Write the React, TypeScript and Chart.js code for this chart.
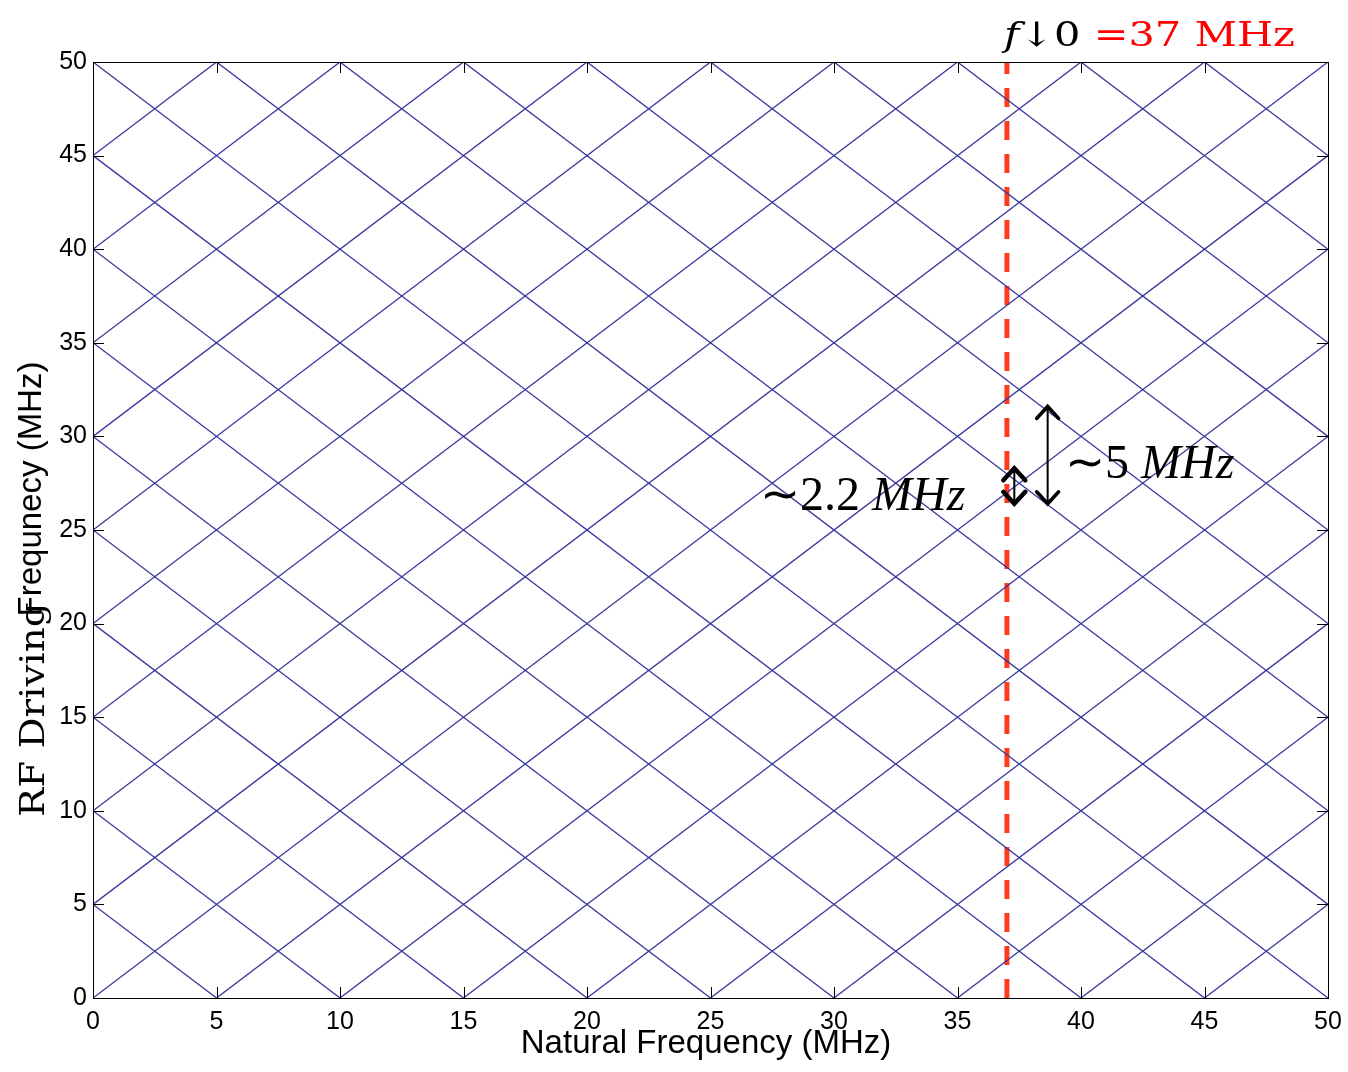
import { useEffect, useRef } from 'react';
import { Chart, registerables } from 'chart.js';

Chart.register(...registerables);

// Axis ticks shared by both axes (MHz)
const axisTicks = [0, 5, 10, 15, 20, 25, 30, 35, 40, 45, 50];

// Comb lines: rising lines y = x + c, falling lines y = c - x (MHz)
const risingOffsets = [-45, -40, -35, -30, -25, -20, -15, -10, -5, 0, 5, 10, 15, 20, 25, 30, 35, 40, 45];
const fallingOffsets = [5, 10, 15, 20, 25, 30, 35, 40, 45, 50, 55, 60, 65, 70, 75, 80, 85, 90, 95];

// Natural frequency of the resonator (MHz)
const naturalFrequencyF0 = 37;

// Spacing markers next to the f0 line (MHz)
const spacingArrows = [
  { x: 37.3, low: 26.4, high: 28.3, heavy: true },
  { x: 38.65, low: 26.4, high: 31.6, heavy: false },
];
const spacingLabels = [
  { value: '2.2', x: 760, y: 510 },
  { value: '5', x: 1065, y: 478 },
];

const xTitle = 'Natural Frequency (MHz)';
const yTitle = 'Frequnecy (MHz)';
const yTitlePrefix = 'RF Driving';

const SANS = '"Liberation Sans", Arial, Helvetica, sans-serif';
const SERIF = '"DejaVu Serif", serif';
const TIMES = '"Liberation Serif", "Times New Roman", serif';
const LINE_BLUE = 'rgb(55, 55, 155)';
const DASH_RED = '#ff3b1f';
const LABEL_RED = '#ff0000';

type Segment = { text: string; font: string; color: string };

function drawRun(
  ctx: CanvasRenderingContext2D,
  segments: Segment[],
  x: number,
  y: number,
  scaleX: number,
  angle = 0
) {
  ctx.save();
  ctx.translate(x, y);
  ctx.rotate(angle);
  ctx.scale(scaleX, 1);
  ctx.textAlign = 'left';
  ctx.textBaseline = 'alphabetic';
  let cx = 0;
  for (const s of segments) {
    ctx.font = s.font;
    ctx.fillStyle = s.color;
    ctx.fillText(s.text, cx, 0);
    cx += ctx.measureText(s.text).width;
  }
  ctx.restore();
}

function drawDoubleArrow(
  ctx: CanvasRenderingContext2D,
  x: number,
  yTop: number,
  yBottom: number,
  heavy: boolean
) {
  const half = 11;
  const headH = 12;
  ctx.save();
  ctx.strokeStyle = '#000';
  ctx.lineCap = 'round';
  ctx.lineJoin = 'miter';
  ctx.lineWidth = 2;
  ctx.beginPath();
  ctx.moveTo(x, yTop + 1);
  ctx.lineTo(x, yBottom - 1);
  ctx.stroke();
  ctx.lineWidth = heavy ? 4.5 : 3.5;
  ctx.beginPath();
  ctx.moveTo(x - half, yTop + headH);
  ctx.lineTo(x, yTop);
  ctx.lineTo(x + half, yTop + headH);
  ctx.moveTo(x - half, yBottom - headH);
  ctx.lineTo(x, yBottom);
  ctx.lineTo(x + half, yBottom - headH);
  ctx.stroke();
  ctx.restore();
}

const framePlugin = {
  id: 'matlabFrame',
  afterDraw(chart: any) {
    const { ctx, chartArea, scales } = chart;
    const { left, right, top, bottom } = chartArea;
    const xs = scales.x;
    const ys = scales.y;
    const tickLen = 11;

    ctx.save();
    ctx.strokeStyle = '#000';
    ctx.lineWidth = 1;
    ctx.strokeRect(left + 0.5, top + 0.5, right - left, bottom - top);
    ctx.beginPath();
    for (const v of axisTicks) {
      const px = Math.round(xs.getPixelForValue(v)) + 0.5;
      ctx.moveTo(px, bottom);
      ctx.lineTo(px, bottom - tickLen);
      ctx.moveTo(px, top);
      ctx.lineTo(px, top + tickLen);
      const py = Math.round(ys.getPixelForValue(v)) + 0.5;
      ctx.moveTo(left, py);
      ctx.lineTo(left + tickLen, py);
      ctx.moveTo(right, py);
      ctx.lineTo(right - tickLen, py);
    }
    ctx.stroke();
    ctx.restore();

    // Axis titles
    ctx.save();
    ctx.fillStyle = '#000';
    ctx.font = `33px ${SANS}`;
    ctx.textAlign = 'center';
    ctx.textBaseline = 'alphabetic';
    ctx.fillText(xTitle, 706, 1053);
    ctx.translate(41, 489);
    ctx.rotate(-Math.PI / 2);
    ctx.fillText(yTitle, 0, 0);
    ctx.restore();

    drawRun(ctx, [{ text: yTitlePrefix, font: `34px ${SERIF}`, color: '#000' }], 44, 817, 1.14, -Math.PI / 2);

    // f0 label above the plot
    drawRun(
      ctx,
      [
        { text: 'f', font: `italic 34px ${SERIF}`, color: '#000' },
        { text: '\u21930 ', font: `34px ${SERIF}`, color: '#000' },
        { text: `=${naturalFrequencyF0} MHz`, font: `34px ${SERIF}`, color: LABEL_RED },
      ],
      1004,
      46,
      1.22
    );

    // Spacing arrows and their labels
    for (const a of spacingArrows) {
      drawDoubleArrow(ctx, xs.getPixelForValue(a.x), ys.getPixelForValue(a.high), ys.getPixelForValue(a.low), a.heavy);
    }
    for (const l of spacingLabels) {
      drawRun(
        ctx,
        [
          { text: `\u223C${l.value} `, font: `48px ${TIMES}`, color: '#000' },
          { text: 'MHz', font: `italic 48px ${TIMES}`, color: '#000' },
        ],
        l.x,
        l.y,
        1.0
      );
    }
  },
};

export default function App() {
  const canvasRef = useRef<HTMLCanvasElement | null>(null);

  useEffect(() => {
    const canvas = canvasRef.current;
    if (!canvas) return;

    const combStyle = {
      borderColor: LINE_BLUE,
      borderWidth: 1.3,
      pointRadius: 0,
      fill: false,
      tension: 0,
    };

    const datasets: any[] = [
      ...risingOffsets.map((c) => ({
        ...combStyle,
        data: [
          { x: 0, y: c },
          { x: 50, y: 50 + c },
        ],
      })),
      ...fallingOffsets.map((c) => ({
        ...combStyle,
        data: [
          { x: 0, y: c },
          { x: 50, y: c - 50 },
        ],
      })),
      {
        data: [
          { x: naturalFrequencyF0, y: 0 },
          { x: naturalFrequencyF0, y: 50 },
        ],
        borderColor: DASH_RED,
        borderWidth: 5,
        borderDash: [19, 14],
        pointRadius: 0,
        fill: false,
      },
    ];

    const tickFont = { family: SANS, size: 25 };

    const chart = new Chart(canvas, {
      type: 'line',
      data: { datasets },
      plugins: [framePlugin],
      options: {
        responsive: false,
        animation: false,
        devicePixelRatio: 1,
        events: [],
        layout: { padding: { top: 62, right: 20, bottom: 0, left: 0 } },
        plugins: { legend: { display: false }, tooltip: { enabled: false } },
        scales: {
          x: {
            type: 'linear',
            min: 0,
            max: 50,
            afterBuildTicks: (s: any) => {
              s.ticks = axisTicks.map((v) => ({ value: v }));
            },
            afterFit: (s: any) => {
              s.height = 74;
              s.paddingLeft = 0;
              s.paddingRight = 0;
            },
            grid: { display: false, drawTicks: false },
            border: { display: false },
            ticks: { font: tickFont, color: '#000', padding: 9, maxRotation: 0, autoSkip: false },
          },
          y: {
            type: 'linear',
            min: 0,
            max: 50,
            afterBuildTicks: (s: any) => {
              s.ticks = axisTicks.map((v) => ({ value: v }));
            },
            afterFit: (s: any) => {
              s.width = 93;
              s.paddingTop = 0;
              s.paddingBottom = 0;
            },
            grid: { display: false, drawTicks: false },
            border: { display: false },
            ticks: { font: tickFont, color: '#000', padding: 6, autoSkip: false },
          },
        },
      } as any,
    });

    return () => chart.destroy();
  }, []);

  return (
    <div style={{ position: 'absolute', left: 0, top: 0, width: 1348, height: 1072, background: '#fff' }}>
      <canvas ref={canvasRef} width={1348} height={1072} style={{ display: 'block' }} />
    </div>
  );
}
